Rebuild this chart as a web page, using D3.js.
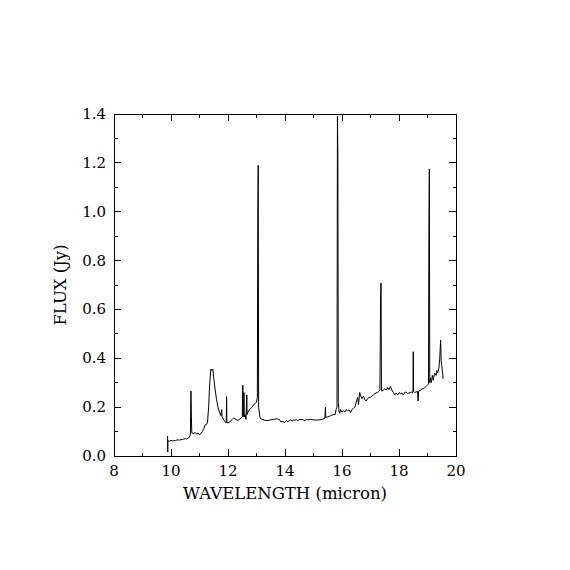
<!DOCTYPE html>
<html>
<head>
<meta charset="utf-8">
<script src="https://cdn.jsdelivr.net/npm/d3@7"></script>
<style>
    body { margin: 0; background: #fff; }
    .tick-label { font-family: "DejaVu Serif", "Liberation Serif", serif; font-size: 15px; fill: #000; }
    .axis-title { font-family: "DejaVu Serif", "Liberation Serif", serif; font-size: 16.5px; fill: #000; }
</style>
</head>
<body>
<div id="chart"></div>
<script>
    // spectrum
    var wavelength = [
        9.88, 9.885, 9.89, 9.95, 10.0, 10.05, 10.1, 10.15, 10.2, 10.25, 10.3, 10.35, 10.4, 10.45, 10.5, 10.55, 10.6, 10.65, 10.68, 10.70, 10.715, 10.73,
        10.78, 10.85, 10.9, 10.95, 11.0, 11.05, 11.1, 11.15, 11.2, 11.25, 11.28, 11.32, 11.36, 11.40, 11.44, 11.47, 11.5, 11.55, 11.6, 11.65, 11.7, 11.75,
        11.78, 11.79, 11.85, 11.9, 11.94, 11.95, 11.96, 12.0, 12.05, 12.1, 12.15, 12.2, 12.25, 12.3, 12.35, 12.4, 12.45, 12.5, 12.52, 12.53, 12.55, 12.56,
        12.57, 12.6, 12.63, 12.66, 12.67, 12.7, 12.75, 12.8, 12.85, 12.9, 12.95, 13.0, 13.03, 13.045, 13.06, 13.075, 13.12, 13.15, 13.2, 13.3, 13.4, 13.5,
        13.6, 13.7, 13.8, 13.85, 13.9, 14.0, 14.05, 14.1, 14.15, 14.2, 14.25, 14.3, 14.35, 14.4, 14.45, 14.5, 14.6, 14.65, 14.7, 14.75, 14.8, 14.9, 15.0,
        15.1, 15.2, 15.3, 15.4, 15.42, 15.43, 15.5, 15.6, 15.7, 15.76, 15.79, 15.825, 15.84, 15.855, 15.87, 15.9, 15.92, 15.95, 16.0, 16.05, 16.1, 16.15,
        16.2, 16.25, 16.3, 16.35, 16.4, 16.45, 16.5, 16.55, 16.58, 16.62, 16.65, 16.7, 16.75, 16.8, 16.85, 16.9, 16.95, 17.0, 17.05, 17.1, 17.15, 17.2,
        17.25, 17.3, 17.33, 17.355, 17.37, 17.385, 17.40, 17.45, 17.5, 17.55, 17.6, 17.65, 17.7, 17.75, 17.8, 17.85, 17.9, 17.95, 18.0, 18.05, 18.1, 18.15,
        18.2, 18.25, 18.3, 18.35, 18.4, 18.45, 18.49, 18.50, 18.51, 18.55, 18.6, 18.65, 18.67, 18.69, 18.75, 18.8, 18.85, 18.9, 18.95, 19.0, 19.035, 19.05,
        19.065, 19.08, 19.1, 19.13, 19.17, 19.2, 19.25, 19.3, 19.33, 19.36, 19.4, 19.43, 19.46, 19.48, 19.5, 19.52, 19.55
    ];
    var flux = [
        0.082, 0.016, 0.062, 0.061, 0.064, 0.062, 0.064, 0.063, 0.065, 0.066, 0.065, 0.067, 0.068, 0.069, 0.071, 0.07, 0.073, 0.077, 0.09, 0.266, 0.16, 0.095,
        0.092, 0.096, 0.09, 0.094, 0.087, 0.092, 0.1, 0.112, 0.128, 0.13, 0.136, 0.2, 0.3, 0.356, 0.35, 0.355, 0.32, 0.27, 0.23, 0.2, 0.18, 0.165,
        0.19, 0.16, 0.148, 0.14, 0.135, 0.243, 0.138, 0.135, 0.138, 0.145, 0.15, 0.155, 0.152, 0.148, 0.146, 0.15, 0.155, 0.16, 0.29, 0.17, 0.16, 0.26,
        0.16, 0.17, 0.15, 0.25, 0.17, 0.18, 0.19, 0.195, 0.2, 0.21, 0.215, 0.22, 0.24, 0.97, 1.19, 0.2, 0.16, 0.152, 0.15, 0.146, 0.145, 0.148,
        0.15, 0.152, 0.15, 0.14, 0.142, 0.138, 0.145, 0.14, 0.145, 0.148, 0.143, 0.147, 0.146, 0.149, 0.145, 0.148, 0.15, 0.147, 0.145, 0.15, 0.148, 0.15, 0.148,
        0.147, 0.148, 0.15, 0.155, 0.2, 0.158, 0.16, 0.165, 0.17, 0.17, 0.19, 0.2, 1.39, 1.225, 0.22, 0.18, 0.175, 0.19, 0.18, 0.185, 0.18, 0.19,
        0.185, 0.19, 0.178, 0.19, 0.195, 0.2, 0.22, 0.24, 0.21, 0.26, 0.25, 0.235, 0.245, 0.23, 0.225, 0.235, 0.24, 0.24, 0.245, 0.25, 0.255, 0.258,
        0.26, 0.265, 0.27, 0.655, 0.708, 0.27, 0.265, 0.27, 0.275, 0.27, 0.28, 0.272, 0.285, 0.27, 0.26, 0.25, 0.258, 0.25, 0.26, 0.255, 0.258, 0.25,
        0.26, 0.262, 0.255, 0.258, 0.26, 0.262, 0.26, 0.427, 0.265, 0.26, 0.262, 0.265, 0.225, 0.265, 0.268, 0.275, 0.275, 0.28, 0.285, 0.29, 0.295, 0.945,
        1.175, 0.3, 0.32, 0.3, 0.33, 0.31, 0.34, 0.33, 0.35, 0.34, 0.36, 0.4, 0.475, 0.39, 0.37, 0.35, 0.315
    ];

    var xTicks = [8, 10, 12, 14, 16, 18, 20];
    var yTicks = [0.0, 0.2, 0.4, 0.6, 0.8, 1.0, 1.2, 1.4];

    var margin = { top: 114, right: 114, bottom: 114, left: 114 };
    var width = 570 - margin.left - margin.right;
    var height = 570 - margin.top - margin.bottom;

    var svg = d3.select("#chart")
        .append("svg")
        .attr("width", 570)
        .attr("height", 570);

    var g = svg.append("g")
        .attr("transform", "translate(" + margin.left + "," + margin.top + ")");

    var x = d3.scaleLinear().domain([8, 20]).range([0, width]);
    var y = d3.scaleLinear().domain([0, 1.4]).range([height, 0]);

    var major = 7, minor = 3.5;

    // inward ticks on all four sides
    function ticksBottom(sel, vals, len) {
        sel.selectAll(null).data(vals).enter().append("line")
            .attr("x1", d => x(d)).attr("x2", d => x(d))
            .attr("y1", height).attr("y2", height - len)
            .attr("stroke", "#000");
        sel.selectAll(null).data(vals).enter().append("line")
            .attr("x1", d => x(d)).attr("x2", d => x(d))
            .attr("y1", 0).attr("y2", len)
            .attr("stroke", "#000");
    }
    function ticksLeft(sel, vals, len) {
        sel.selectAll(null).data(vals).enter().append("line")
            .attr("y1", d => y(d)).attr("y2", d => y(d))
            .attr("x1", 0).attr("x2", len)
            .attr("stroke", "#000");
        sel.selectAll(null).data(vals).enter().append("line")
            .attr("y1", d => y(d)).attr("y2", d => y(d))
            .attr("x1", width).attr("x2", width - len)
            .attr("stroke", "#000");
    }

    var xMinor = d3.range(9, 20, 2);
    var yMinor = d3.range(0.1, 1.4, 0.2);

    var tickG = g.append("g").attr("shape-rendering", "crispEdges");
    ticksBottom(tickG, xTicks, major);
    ticksBottom(tickG, xMinor, minor);
    ticksLeft(tickG, yTicks, major);
    ticksLeft(tickG, yMinor, minor);

    g.append("rect")
        .attr("width", width).attr("height", height)
        .attr("fill", "none").attr("stroke", "#000")
        .attr("shape-rendering", "crispEdges");

    // tick labels
    g.selectAll("text.xl").data(xTicks).enter().append("text")
        .attr("class", "tick-label")
        .attr("x", d => x(d)).attr("y", height + 20)
        .attr("text-anchor", "middle")
        .text(d => d);

    g.selectAll("text.yl").data(yTicks).enter().append("text")
        .attr("class", "tick-label")
        .attr("x", -8).attr("y", d => y(d) + 5)
        .attr("text-anchor", "end")
        .text(d => d.toFixed(1));

    // axis titles
    g.append("text")
        .attr("class", "axis-title")
        .attr("x", width / 2).attr("y", height + 43)
        .attr("text-anchor", "middle")
        .text("WAVELENGTH (micron)");

    g.append("text")
        .attr("class", "axis-title")
        .attr("transform", "translate(-48," + (height / 2) + ") rotate(-90)")
        .attr("text-anchor", "middle")
        .text("FLUX (Jy)");

    // spectrum
    var line = d3.line()
        .x(function (d, i) { return x(wavelength[i]); })
        .y(function (d) { return y(d); });

    g.append("path")
        .datum(flux)
        .attr("d", line)
        .attr("fill", "none")
        .attr("stroke", "#000")
        .attr("stroke-width", 1);
</script>
</body>
</html>
